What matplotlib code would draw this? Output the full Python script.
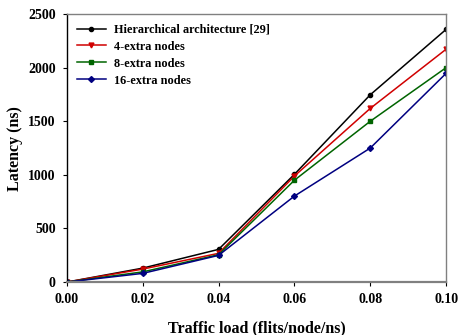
import matplotlib
matplotlib.use('Agg')
import matplotlib.pyplot as plt

plt.rcParams['font.family'] = 'Liberation Serif'
plt.rcParams['font.weight'] = 'bold'

load = [0.00, 0.02, 0.04, 0.06, 0.08, 0.10]
hier = [0, 130, 305, 1005, 1747, 2357]
extra4 = [0, 121, 268, 989, 1620, 2172]
extra8 = [0, 95, 255, 950, 1500, 2000]
extra16 = [0, 81, 249, 802, 1250, 1947]
labels = ['Hierarchical architecture [29]', '4-extra nodes', '8-extra nodes', '16-extra nodes']

fig = plt.figure(figsize=(4.58, 3.35), dpi=100)
ax = fig.add_axes([0.146, 0.158, 0.828, 0.8])

ax.plot(load, hier, color='black', marker='o', markersize=3, lw=1.1, label=labels[0])
ax.plot(load, extra4, color='#d00000', marker='v', markersize=3.5, lw=1.1, label=labels[1])
ax.plot(load, extra8, color='#006400', marker='s', markersize=3, lw=1.1, label=labels[2])
ax.plot(load, extra16, color='#000080', marker='D', markersize=3, lw=1.1, label=labels[3])

ax.set_xlim(0, 0.10)
ax.set_ylim(0, 2500)
ax.set_xticks(load)
ax.set_xticklabels(['%.2f' % v for v in load])
ax.set_yticks([0, 500, 1000, 1500, 2000, 2500])
ax.tick_params(labelsize=10, length=3, width=0.8, pad=5)

for s in ['top', 'right']:
    ax.spines[s].set_color('#808080')
    ax.spines[s].set_linewidth(1.0)
ax.spines['bottom'].set_color('#808080')
ax.spines['bottom'].set_linewidth(1.6)
ax.spines['left'].set_color('black')
ax.spines['left'].set_linewidth(1.0)

ax.set_xlabel('Traffic load (flits/node/ns)', fontsize=11.5, fontweight='bold', labelpad=10)
ax.set_ylabel('Latency (ns)', fontsize=11.5, fontweight='bold', labelpad=4)

ax.legend(loc='upper left', frameon=False, handlelength=2.4, handletextpad=0.65,
          borderaxespad=0.4, labelspacing=0.4, prop={'weight': 'bold', 'size': 8.8})

fig.savefig('out.png', dpi=100)
